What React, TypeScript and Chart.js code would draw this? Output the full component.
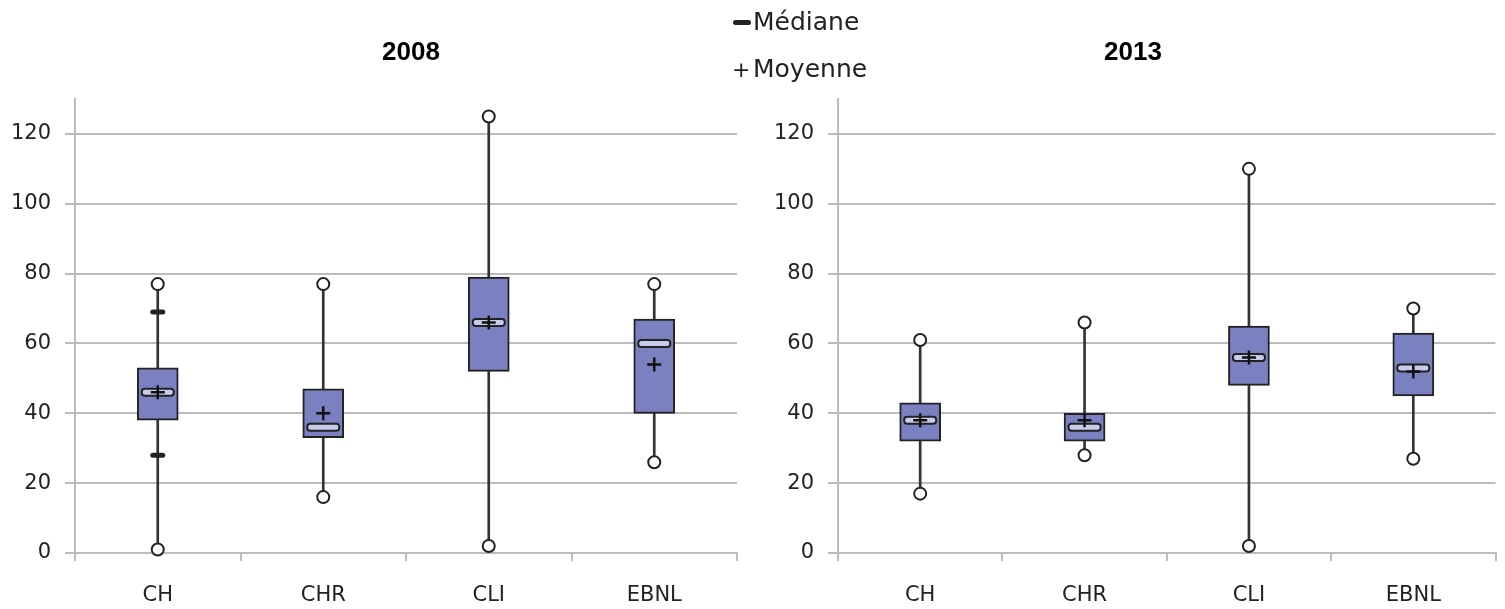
import React, { useEffect, useRef } from "react";
import { Chart, registerables } from "chart.js";
Chart.register(...registerables);

const categories = ["CH", "CHR", "CLI", "EBNL"];
const yStep = 20;
const yMax = 130;

// 2008
const min2008 = [1, 16, 2, 26];
const p10_2008 = [28, null, null, null];
const q1_2008 = [38, 33, 52, 40];
const median2008 = [46, 36, 66, 60];
const mean2008 = [46, 40, 66, 54];
const q3_2008 = [53, 47, 79, 67];
const p90_2008 = [69, null, null, null];
const max2008 = [77, 77, 125, 77];

// 2013
const min2013 = [17, 28, 2, 27];
const p10_2013 = [null, null, null, null];
const q1_2013 = [32, 32, 48, 45];
const median2013 = [38, 36, 56, 53];
const mean2013 = [38, 38, 56, 52];
const q3_2013 = [43, 40, 65, 63];
const p90_2013 = [null, null, null, null];
const max2013 = [61, 66, 110, 70];

const FONT = "'DejaVu Sans', sans-serif";
const GRID = "#bcbcbc";
const INK = "#222222";
const BOX = "#7b80c1";

type Series = {
  min: number[];
  p10: (number | null)[];
  q1: number[];
  median: number[];
  mean: number[];
  q3: number[];
  p90: (number | null)[];
  max: number[];
};

function makeConfig(s: Series, yWidth: number, padRight: number): any {
  const extras = {
    id: "boxExtras",
    afterDatasetDraw(chart: any, args: any) {
      if (args.index !== 1) return;
      const ctx = chart.ctx;
      const xs = chart.scales.x;
      const ys = chart.scales.y;
      ctx.save();
      s.median.forEach((m, i) => {
        const cx = xs.getPixelForValue(i);
        const cy = ys.getPixelForValue(m);
        ctx.beginPath();
        ctx.roundRect(cx - 16, cy - 3.5, 32, 7, 3);
        ctx.fillStyle = "#c9cbeb";
        ctx.fill();
        ctx.lineWidth = 2;
        ctx.strokeStyle = INK;
        ctx.stroke();
      });
      [s.p10, s.p90].forEach((arr) => {
        arr.forEach((v, i) => {
          if (v === null) return;
          const cx = xs.getPixelForValue(i);
          const cy = ys.getPixelForValue(v);
          ctx.beginPath();
          ctx.roundRect(cx - 7.5, cy - 2.5, 15, 5, 2.5);
          ctx.fillStyle = INK;
          ctx.fill();
        });
      });
      ctx.restore();
    },
  };

  return {
    type: "bar",
    data: {
      labels: categories,
      datasets: [
        {
          type: "bar",
          data: s.min.map((v, i) => [v, s.max[i]]),
          backgroundColor: "#333333",
          barThickness: 2,
          grouped: false,
          order: 5,
        },
        {
          type: "bar",
          data: s.q1.map((v, i) => [v, s.q3[i]]),
          backgroundColor: BOX,
          borderColor: INK,
          borderWidth: 2,
          borderSkipped: false,
          barThickness: 41,
          grouped: false,
          order: 4,
        },
        {
          type: "line",
          data: s.max,
          showLine: false,
          pointStyle: "circle",
          pointRadius: 6,
          pointBackgroundColor: "#ffffff",
          pointBorderColor: INK,
          pointBorderWidth: 2,
          clip: false,
          order: 2,
        },
        {
          type: "line",
          data: s.min,
          showLine: false,
          pointStyle: "circle",
          pointRadius: 6,
          pointBackgroundColor: "#ffffff",
          pointBorderColor: INK,
          pointBorderWidth: 2,
          clip: false,
          order: 2,
        },
        {
          type: "line",
          data: s.mean,
          showLine: false,
          pointStyle: "cross",
          pointRadius: 7,
          pointBorderColor: "#111111",
          pointBorderWidth: 2.5,
          clip: false,
          order: 1,
        },
      ],
    },
    options: {
      animation: false,
      responsive: false,
      devicePixelRatio: 1,
      events: [],
      layout: { padding: { top: 99, right: padRight, bottom: 0, left: 0 } },
      plugins: {
        legend: { display: false },
        title: { display: false },
        tooltip: { enabled: false },
      },
      scales: {
        x: {
          type: "category",
          offset: true,
          afterFit(scale: any) {
            scale.height = 56;
          },
          grid: {
            offset: true,
            drawOnChartArea: false,
            drawTicks: true,
            tickLength: 8,
            color: GRID,
            lineWidth: 2,
          },
          border: { color: GRID, width: 2 },
          ticks: {
            color: INK,
            font: { family: FONT, size: 21 },
            padding: 22,
          },
        },
        y: {
          min: 0,
          max: yMax,
          afterFit(scale: any) {
            scale.width = yWidth;
          },
          afterBuildTicks(scale: any) {
            scale.ticks = scale.ticks.filter((t: any) => t.value % yStep === 0);
          },
          ticks: {
            stepSize: yStep,
            color: INK,
            font: { family: FONT, size: 21 },
            padding: 14,
          },
          grid: { color: GRID, lineWidth: 2, tickLength: 10 },
          border: { color: GRID, width: 2 },
        },
      },
    },
    plugins: [extras],
  };
}

function BoxChart(props: { series: Series; left: number; width: number; yWidth: number; padRight: number }) {
  const ref = useRef<HTMLCanvasElement | null>(null);
  useEffect(() => {
    if (!ref.current) return;
    const chart = new Chart(ref.current, makeConfig(props.series, props.yWidth, props.padRight));
    return () => chart.destroy();
  }, []);
  return (
    <canvas
      ref={ref}
      width={props.width}
      height={609}
      style={{ position: "absolute", left: props.left, top: 0, width: props.width, height: 609 }}
    />
  );
}

const titleStyle: React.CSSProperties = {
  position: "absolute",
  top: 35,
  width: 120,
  textAlign: "center",
  fontFamily: "'Liberation Sans', Arial, sans-serif",
  fontWeight: "bold",
  fontSize: 26,
  lineHeight: "32px",
  color: "#000",
};

const legendText: React.CSSProperties = {
  position: "absolute",
  left: 753,
  fontFamily: FONT,
  fontSize: 25,
  lineHeight: "30px",
  color: "#222",
  whiteSpace: "nowrap",
};

export default function App() {
  const s2008: Series = {
    min: min2008, p10: p10_2008, q1: q1_2008, median: median2008,
    mean: mean2008, q3: q3_2008, p90: p90_2008, max: max2008,
  };
  const s2013: Series = {
    min: min2013, p10: p10_2013, q1: q1_2013, median: median2013,
    mean: mean2013, q3: q3_2013, p90: p90_2013, max: max2013,
  };
  return (
    <div style={{ position: "fixed", left: 0, top: 0, width: 1505, height: 609, background: "#fff", overflow: "hidden" }}>
      <BoxChart series={s2008} left={0} width={752} yWidth={75} padRight={15} />
      <BoxChart series={s2013} left={760} width={745} yWidth={78} padRight={1} />
      <div style={{ ...titleStyle, left: 411 - 60 }}>2008</div>
      <div style={{ ...titleStyle, left: 1133 - 60 }}>2013</div>
      <div style={{ position: "absolute", left: 733, top: 20, width: 18, height: 5, borderRadius: 2.5, background: "#222" }} />
      <div style={{ ...legendText, top: 7 }}>Médiane</div>
      <div style={{ ...legendText, left: 732, top: 55, fontSize: 22 }}>+</div>
      <div style={{ ...legendText, top: 54 }}>Moyenne</div>
    </div>
  );
}
